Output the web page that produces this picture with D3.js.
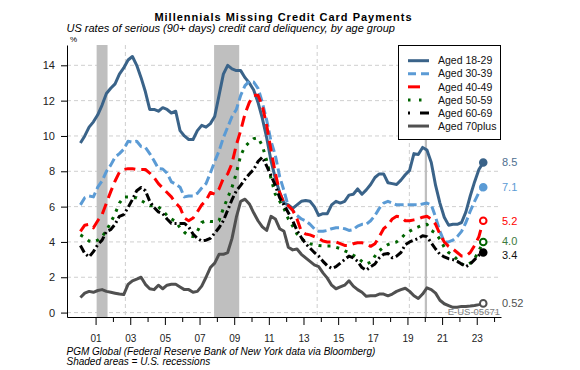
<!DOCTYPE html>
<html>
<head>
<meta charset="utf-8">
<script src="https://cdn.jsdelivr.net/npm/d3@7"></script>
<style>
  body { margin: 0; background: #fff; }
  svg text { font-family: Arial, "Liberation Sans", sans-serif; }
</style>
</head>
<body>
<div class="chart"></div>
<script>
// DATA ------------------------------------
// quarterly delinquency rates, 2000Q1 .. 2023Q2
let firstYear = 2000;
let nQuarters = 94;

let ageGroups = ["Aged 18-29", "Aged 30-39", "Aged 40-49", "Aged 50-59", "Aged 60-69", "Aged 70plus"];

let aged18_29 = [
  9.6, 10.0, 10.5, 10.8, 11.2, 11.75, 12.4, 12.7, 12.95, 13.5, 13.85, 14.3, 14.5, 14.0, 13.3, 12.5, 11.5, 11.5, 11.4, 11.6, 11.5, 11.3, 11.4, 10.3,
  10.0, 9.8, 9.8, 10.3, 10.6, 10.5, 10.7, 11.1, 12.3, 13.5, 14.0, 13.8, 13.7, 13.7, 13.3,
  13.0, 12.6, 11.9, 11.0, 9.9, 8.6, 7.6, 6.8,
  6.2, 6.1, 5.9, 6.1, 6.3, 6.35, 6.3, 6.0, 5.5, 5.6, 5.6, 6.1, 6.3, 6.2, 6.3, 6.65, 6.7, 7.0, 6.7, 6.95, 7.25, 7.65, 7.85, 7.85, 7.35, 7.3, 7.25, 7.5,
  7.8, 8.05, 9.0, 8.95, 9.35, 9.2, 8.5, 7.2, 6.2, 5.4, 4.95, 5.0, 5.0, 5.1, 5.7, 6.6, 7.4, 8.1, 8.5
];
let aged30_39 = [
  6.1, 6.5, 6.6, 6.55, 7.1, 7.45, 8.0, 8.35, 8.8, 9.0, 9.25, 9.7, 9.65, 9.7, 9.4, 9.35, 9.0, 8.6, 8.15, 8.13, 7.9, 7.4, 7.27, 7.1,
  6.55, 6.6, 6.6, 6.75, 7.05, 7.3, 7.9, 8.55, 9.15, 9.9, 10.5, 11.1, 11.5, 12.3, 12.85, 13.1, 13.05, 12.7, 11.9, 10.9, 9.7, 8.9, 7.7, 6.9,
  6.0, 5.8, 5.5, 5.3, 5.2, 5.0, 4.75, 4.6, 4.6, 4.65, 4.75, 4.8, 4.8, 4.75, 4.65, 4.7, 4.9, 5.0, 5.0, 5.2, 5.5, 5.9, 6.2, 6.3, 6.2, 6.1, 6.1,
  6.1, 6.1, 6.1, 6.1, 6.15, 6.2, 6.1, 5.4, 4.6, 4.0, 4.0, 4.1, 4.3, 4.6, 5.1, 5.75, 6.3, 6.8, 7.1
];
let aged40_49 = [
  4.6, 4.95, 5.0, 4.8, 5.2, 5.55, 6.2, 6.85, 7.45, 7.95, 8.1, 8.15, 8.15, 8.1, 8.1, 8.1, 7.9, 7.65, 7.3, 7.05, 6.8, 6.55, 6.2, 5.95,
  5.35, 5.2, 5.35, 5.7, 6.1, 6.35, 6.8, 6.7, 7.0, 7.6, 7.85, 8.45, 9.5, 10.3, 11.25, 11.9, 12.3, 12.3, 11.7, 10.6, 9.2, 7.9, 6.8, 6.2,
  6.05, 5.8, 5.3, 4.6, 4.45, 4.4, 4.3, 4.2, 4.05, 4.0, 4.0, 4.0, 3.9, 3.8, 3.8, 3.9, 3.95, 3.95, 3.9, 3.75, 3.9, 4.3, 4.75, 4.95, 5.3, 5.45, 5.4,
  5.2, 5.2, 5.25, 5.3, 5.4, 5.45, 5.3, 5.0, 4.45, 4.0, 3.75, 3.6, 3.4, 3.2, 3.2, 3.4, 3.8, 4.3, 5.2
];
let aged50_59 = [
  4.4, 4.25, 4.05, 4.0, 4.1, 4.3, 4.65, 5.1, 5.6, 6.2, 6.55, 6.55, 6.5, 6.5, 6.35, 6.2, 6.05, 6.05, 6.0, 5.75, 5.5, 5.3, 5.15, 4.8,
  4.55, 4.35, 4.3, 4.6, 5.1, 5.2, 5.15, 5.15, 5.2, 5.9, 6.5, 7.1, 7.9, 8.9, 9.4, 9.65, 9.85, 9.9, 9.45, 8.6, 7.6, 6.7, 6.3, 5.9,
  5.3, 4.9, 4.45, 4.2, 4.0, 3.9, 3.85, 3.8, 3.78, 3.77, 3.77, 3.7, 3.62, 3.5, 3.4, 3.25, 3.1, 2.9, 2.75, 2.85, 3.2, 3.5, 3.7, 3.85, 3.95, 4.0, 4.2,
  4.45, 4.6, 4.75, 4.85, 4.95, 5.0, 4.65, 4.5, 4.15, 3.7, 3.4, 3.25, 3.0, 2.75, 2.65, 2.8, 3.05, 3.5, 4.0
];
let aged60_69 = [
  3.8, 3.35, 3.15, 3.45, 3.85, 4.1, 4.6, 4.7, 5.0, 5.45, 5.55, 5.95, 6.4, 6.9, 7.08, 6.9, 6.3, 5.95, 5.7, 5.6, 5.3, 5.05, 5.04, 5.04,
  5.05, 4.85, 4.45, 4.2, 4.05, 4.1, 4.2, 4.5, 4.8, 5.2, 5.8, 6.4, 6.9, 7.2, 7.55, 7.85, 8.1, 8.55, 8.8, 8.3, 7.75, 7.2, 6.5, 6.1,
  5.65, 5.2, 4.65, 4.25, 3.9, 3.65, 3.4, 3.2, 2.9, 2.65, 2.5, 2.6, 2.8, 3.0, 3.2, 3.1, 2.9, 2.55, 2.4, 2.6, 2.75, 3.1, 3.3, 3.35, 3.1, 3.2, 3.4,
  3.85, 4.0, 4.1, 4.2, 4.35, 4.3, 3.95, 3.6, 3.3, 3.15, 3.05, 3.0, 2.9, 2.75, 2.6, 2.75, 3.0, 3.25, 3.4
];
let aged70plus = [
  0.85, 1.1, 1.2, 1.15, 1.25, 1.3, 1.2, 1.15, 1.1, 1.05, 1.02, 1.6, 1.8, 1.9, 2.0, 1.6, 1.35, 1.3, 1.55, 1.35, 1.55, 1.6, 1.6, 1.45,
  1.3, 1.3, 1.15, 1.2, 1.5, 2.0, 2.55, 2.8, 3.3, 3.3, 3.4, 4.2, 5.4, 6.3, 6.42, 6.15, 5.65, 5.2, 4.85, 4.65, 5.45, 5.3, 4.75, 4.6,
  3.7, 3.55, 3.6, 3.3, 3.1, 2.9, 2.7, 2.6, 2.25, 1.95, 1.55, 1.35, 1.45, 1.55, 1.8, 1.5, 1.3, 1.15, 0.92, 0.95, 0.95, 1.05, 1.05, 0.95, 1.05, 1.2, 1.3,
  1.38, 1.2, 0.95, 0.8, 1.05, 1.4, 1.3, 1.1, 0.7, 0.5, 0.4, 0.3, 0.3, 0.35, 0.35, 0.37, 0.4, 0.45, 0.52
];

let endLabels = ["8.5", "7.1", "5.2", "4.0", "3.4", "0.52"];

// recession periods (decimal years)
let recessionStart = [2001.06, 2007.84, 2020.0];
let recessionEnd = [2001.69, 2009.29, 2020.13];

let yTicks = [0, 2, 4, 6, 8, 10, 12, 14];
let xTickYears = d3.range(2001, 2025);
let xGridYears = [2002.72, 2008.25, 2013.79, 2019.11];

// STYLES ----------------------------------
let lineColors = ["#3a6389", "#5b9bd5", "#ff0000", "#006400", "#000000", "#505050"];
let lineDashes = [null, "9,4", "11,6", "3,6", "8,3,2,3", null];
let legendDashes = [null, "8,5", "12,9", "2.5,8.5", "2,10,9,5", null];
let markerFill = ["#3a6389", "#5b9bd5", "#fff", "#fff", "#000000", "#fff"];
let labelColors = ["#4e6f90", "#5b9bd5", "#ff0000", "#3d7a3d", "#111", "#505050"];
let labelNudge = [0, 0, 0, -1, 2.5, 0];

let allSeries = [aged18_29, aged30_39, aged40_49, aged50_59, aged60_69, aged70plus];
let quarterDates = d3.range(nQuarters).map(i => firstYear + 0.125 + i * 0.25);

// CHART -----------------------------------
let W = 580, H = 370;
let svg = d3.select(".chart").append("svg")
  .attr("width", W).attr("height", H);

let x = d3.scaleLinear().domain([1999.35, 2024.4]).range([67, 501]);
let y = d3.scaleLinear().domain([-0.25, 15.15]).range([317, 45]);

// grid
svg.append("g").selectAll("line.hgrid")
  .data(yTicks).enter().append("line")
  .attr("x1", x.range()[0]).attr("x2", x.range()[1])
  .attr("y1", d => y(d)).attr("y2", d => y(d))
  .attr("stroke", "#cfcfcf").attr("stroke-dasharray", "4,3");

svg.append("g").selectAll("line.vgrid")
  .data(xGridYears).enter().append("line")
  .attr("x1", d => x(d)).attr("x2", d => x(d))
  .attr("y1", y.range()[1]).attr("y2", y.range()[0])
  .attr("stroke", "#cfcfcf").attr("stroke-dasharray", "4,3");

// recession bands
svg.append("g").selectAll("rect")
  .data(recessionStart).enter().append("rect")
  .attr("x", d => x(d))
  .attr("width", (d, i) => x(recessionEnd[i]) - x(d))
  .attr("y", y.range()[1])
  .attr("height", y.range()[0] - y.range()[1])
  .attr("fill", "#bfbfbf");

// lines
let line = d3.line()
  .x((d, i) => x(quarterDates[i]))
  .y(d => y(d));

let lines = svg.append("g");
allSeries.forEach(function(vals, k) {
  lines.append("path")
    .datum(vals)
    .attr("d", line)
    .attr("fill", "none")
    .attr("stroke", lineColors[k])
    .attr("stroke-width", 3)
    .attr("stroke-linejoin", "round")
    .attr("stroke-dasharray", lineDashes[k]);
});

// end markers + labels
let lastDate = quarterDates[nQuarters - 1];
allSeries.forEach(function(vals, k) {
  let v = vals[vals.length - 1];
  svg.append("circle")
    .attr("cx", x(lastDate)).attr("cy", y(v)).attr("r", 3.3)
    .attr("fill", markerFill[k])
    .attr("stroke", lineColors[k]).attr("stroke-width", 2);
  svg.append("text")
    .attr("x", 502).attr("y", y(v) + labelNudge[k])
    .attr("dy", "0.35em")
    .attr("font-size", 11)
    .attr("fill", labelColors[k])
    .text(endLabels[k]);
});

// axes
let yAxis = d3.axisLeft(y).tickValues(yTicks).tickSize(6).tickPadding(6).tickSizeOuter(0);
let yAxisGroup = svg.append("g").attr("transform", "translate(67,0)").call(yAxis);
yAxisGroup.selectAll("text").attr("font-size", 11).attr("font-family", null).attr("fill", "#222");

let xAxis = d3.axisBottom(x).tickValues(xTickYears).tickSize(5).tickPadding(13).tickSizeOuter(0)
  .tickFormat(d => d % 2 ? d3.format("02")(d % 100) : "");
let xAxisGroup = svg.append("g").attr("transform", "translate(0,317)").call(xAxis);
xAxisGroup.selectAll("text").attr("font-size", 10).attr("font-family", null).attr("fill", "#222");
xAxisGroup.selectAll(".tick line").attr("y2", d => d % 2 ? 8 : 5);

// legend
let legend = svg.append("g");
legend.append("rect")
  .attr("x", 398.5).attr("y", 45.5).attr("width", 102).attr("height", 94)
  .attr("fill", "#fff").attr("stroke", "#000");
ageGroups.forEach(function(name, k) {
  let ly = 60.7 + k * 13.07;
  legend.append("line")
    .attr("x1", 408).attr("x2", 429).attr("y1", ly).attr("y2", ly)
    .attr("stroke", lineColors[k]).attr("stroke-width", 3)
    .attr("stroke-dasharray", legendDashes[k]);
  legend.append("text")
    .attr("x", 438).attr("y", ly).attr("dy", "0.35em")
    .attr("font-size", 10.5).attr("fill", "#111")
    .text(name);
});

// watermark
svg.append("text")
  .attr("x", 500).attr("y", 314.5).attr("text-anchor", "end")
  .attr("font-size", 9.5).attr("fill", "#808080")
  .text("E-US-05671");

// titles
svg.append("text")
  .attr("x", 283.5).attr("y", 20.5).attr("text-anchor", "middle")
  .attr("font-size", 11).attr("font-weight", "bold").attr("letter-spacing", 1)
  .text("Millennials Missing Credit Card Payments");
svg.append("text")
  .attr("x", 66.5).attr("y", 32).attr("font-size", 11).attr("font-style", "italic")
  .text("US rates of serious (90+ days) credit card deliquency, by age group");
svg.append("text")
  .attr("x", 70).attr("y", 42).attr("font-size", 8)
  .text("%");

// footer
svg.append("text")
  .attr("x", 66.5).attr("y", 355).attr("font-size", 10).attr("font-style", "italic")
  .text("PGM Global (Federal Reserve Bank of New York data via Bloomberg)");
svg.append("text")
  .attr("x", 66.5).attr("y", 365).attr("font-size", 10).attr("font-style", "italic")
  .text("Shaded areas = U.S. recessions");
</script>
</body>
</html>
